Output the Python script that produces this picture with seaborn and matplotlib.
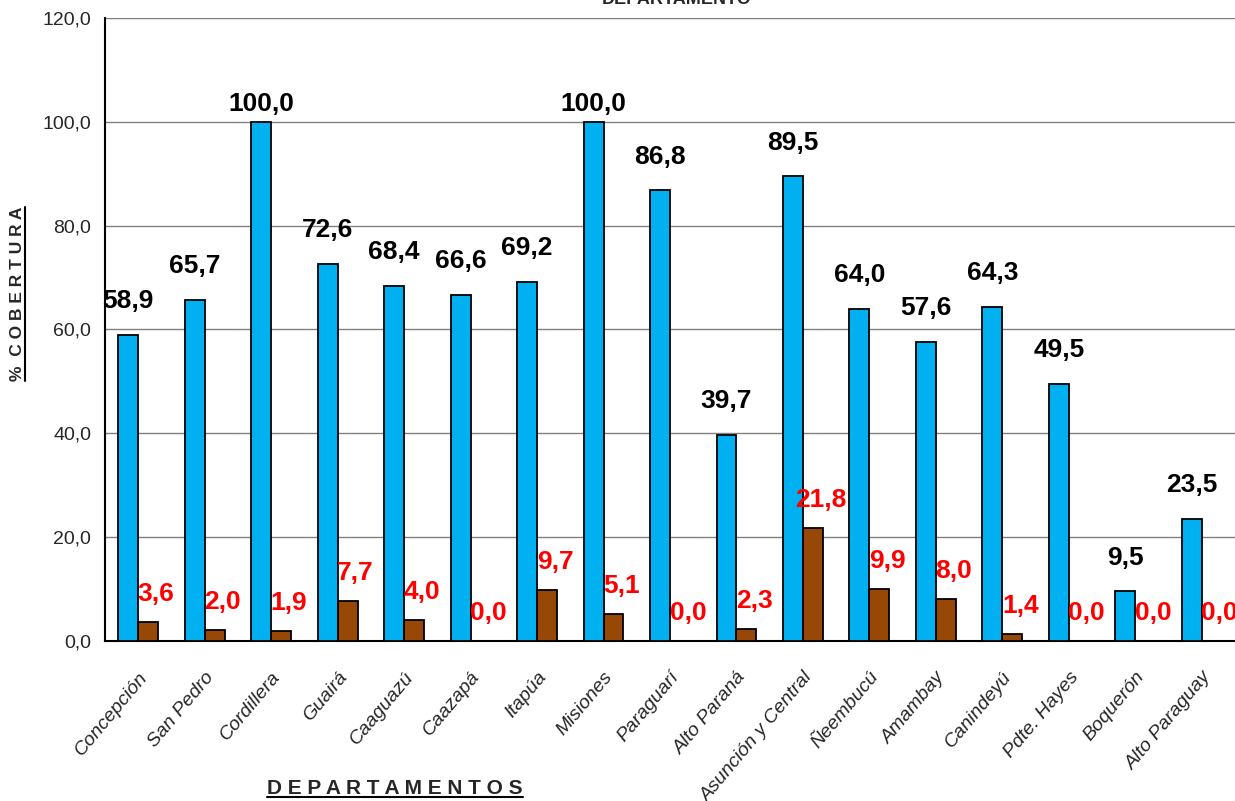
import matplotlib
matplotlib.use("Agg")
import matplotlib.pyplot as plt
import numpy as np
import pandas as pd
import seaborn as sns
from matplotlib.lines import Line2D

departamentos = [
    "Concepción", "San Pedro", "Cordillera", "Guairá", "Caaguazú", "Caazapá",
    "Itapúa", "Misiones", "Paraguarí", "Alto Paraná", "Asunción y Central",
    "Ñeembucú", "Amambay", "Canindeyú", "Pdte. Hayes", "Boquerón", "Alto Paraguay",
]
cobertura_a = [58.9, 65.7, 100.0, 72.6, 68.4, 66.6, 69.2, 100.0, 86.8, 39.7,
               89.5, 64.0, 57.6, 64.3, 49.5, 9.5, 23.5]
cobertura_b = [3.6, 2.0, 1.9, 7.7, 4.0, 0.0, 9.7, 5.1, 0.0, 2.3,
               21.8, 9.9, 8.0, 1.4, 0.0, 0.0, 0.0]
series = ["A", "B"]
y_ticks = [0, 20, 40, 60, 80, 100, 120]

BLUE = "#00B0F0"
BROWN = "#974706"


def fmt(v):
    return f"{v:.1f}".replace(".", ",")


df = pd.DataFrame({
    "departamento": departamentos * 2,
    "serie": [series[0]] * len(departamentos) + [series[1]] * len(departamentos),
    "valor": cobertura_a + cobertura_b,
})

sns.set_style("white")
plt.rcParams["font.family"] = ["Liberation Sans", "DejaVu Sans"]

fig = plt.figure(figsize=(12.35, 8.01), dpi=100)
ax = fig.add_axes([0.085, 0.2, 0.915, 0.7775])

sns.barplot(data=df, x="departamento", y="valor", hue="serie",
            palette=[BLUE, BROWN], saturation=1, width=0.6, edgecolor="black",
            linewidth=1.3, legend=False, ax=ax, zorder=3)

ax.set_ylim(0, 120)
ax.set_xlim(-0.5, len(departamentos) - 0.5)
ax.set_yticks(y_ticks)
ax.set_yticklabels([fmt(v) for v in y_ticks], fontsize=14)
ax.yaxis.grid(True, color="#808080", linewidth=1, zorder=0)
ax.set_axisbelow(True)

ax.set_xticks(range(len(departamentos)))
ax.set_xticklabels(departamentos, rotation=50, ha="right", rotation_mode="anchor",
                   fontsize=14, style="italic")
ax.tick_params(axis="x", which="major", length=0, pad=20)
ax.set_xticks(np.arange(-0.5, len(departamentos)), minor=True)
ax.tick_params(axis="x", which="minor", length=6, width=1.2, color="black", direction="out")
ax.tick_params(axis="y", length=6, width=1.2, color="black", direction="out", pad=4)

for side in ["top", "right"]:
    ax.spines[side].set_visible(False)
for side in ["left", "bottom"]:
    ax.spines[side].set_color("black")
    ax.spines[side].set_linewidth(1.5)

ax.set_xlabel("")
ax.set_ylabel("")

# etiquetas de valores
for bar, v in zip(ax.containers[0], cobertura_a):
    x = bar.get_x() + bar.get_width() / 2
    ax.text(x, min(v + 6.5, 103.5), fmt(v), ha="center", va="center",
            fontsize=19, fontweight="bold", color="black")
for bar, v in zip(ax.containers[1], cobertura_b):
    x = bar.get_x() + bar.get_width() / 2 + 0.12
    ax.text(x, v + 5.4, fmt(v), ha="center", va="center",
            fontsize=19, fontweight="bold", color="red")

fig.text(677 / 1235, 1 - (-1) / 801, "DEPARTAMENTO", ha="center", va="center",
         fontsize=13, fontweight="bold")

# títulos de ejes subrayados
xl = fig.text(395 / 1235, 1 - 788 / 801, "D E P A R T A M E N T O S", ha="center",
              va="center", fontsize=15, fontweight="bold")
yl = fig.text(18 / 1235, 1 - 294 / 801, "%  C O B E R T U R A", ha="center",
              va="center", rotation=90, fontsize=12.5, fontweight="bold")

fig.canvas.draw()
r = fig.canvas.get_renderer()
inv = fig.transFigure.inverted()
bb = xl.get_window_extent(r).transformed(inv)
fig.add_artist(Line2D([bb.x0, bb.x1], [bb.y0 + 0.001, bb.y0 + 0.001],
                      transform=fig.transFigure, color="black", linewidth=1.5))
bb = yl.get_window_extent(r).transformed(inv)
fig.add_artist(Line2D([bb.x1 - 0.0005, bb.x1 - 0.0005], [bb.y0, bb.y1],
                      transform=fig.transFigure, color="black", linewidth=1.5))

fig.savefig("out.png", dpi=100)
